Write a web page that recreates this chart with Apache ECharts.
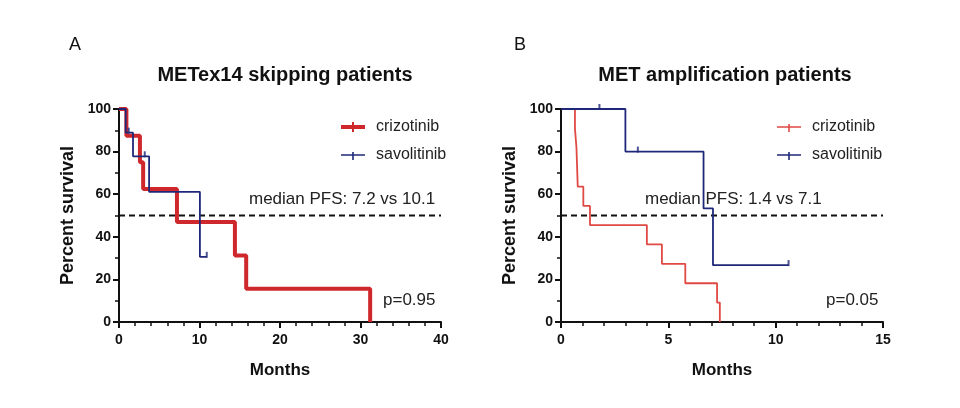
<!DOCTYPE html>
<html><head><meta charset="utf-8">
<script src="https://cdn.jsdelivr.net/npm/echarts@6/dist/echarts.min.js"></script>
<style>html,body{margin:0;padding:0;background:#fff}#c{width:960px;height:408px}</style>
</head><body><div id="c"></div>
<script>
// Panel A: METex14 skipping patients
const aCrizTimes = [0, 0.92, 2.6, 3.0, 7.2, 14.4, 15.8, 31.2];
const aCrizVals  = [100, 87.5, 75, 62.5, 46.9, 31.25, 15.6, 0];
const aSavoTimes = [0, 0.83, 1.74, 3.74, 10.05, 10.9];
const aSavoVals  = [100, 88.9, 77.8, 61.1, 30.6, 30.6];
const aSavoCensorT = [1.2, 3.2, 10.9];
const aSavoCensorV = [88.9, 77.8, 30.6];
// Panel B: MET amplification patients
const bCrizTimes = [0, 0.65, 0.72, 0.78, 1.04, 1.35, 4.0, 4.7, 5.79, 7.27, 7.4];
const bCrizVals  = [100, 90.9, 81.8, 63.6, 54.5, 45.5, 36.4, 27.3, 18.2, 9.1, 0];
const bSavoTimes = [0, 3.0, 6.64, 7.08, 10.6];
const bSavoVals  = [100, 80, 53.3, 26.7, 26.7];
const bSavoCensorT = [1.79, 3.58, 10.6];
const bSavoCensorV = [100, 80, 26.7];
const yTicks = [0, 20, 40, 60, 80, 100];

const zip = (t, v) => t.map((x, i) => [x, v[i]]);
const FONT = '"Liberation Sans", Arial, sans-serif';
const RED_A = '#cf282c', RED_B = '#e04a44', BLUE = '#1f2878';
const ICON_THICK = 'path://M0,3L24,3L24,7L0,7Z M11,0L13,0L13,10L11,10Z';
const ICON_THIN = 'path://M0,4.2L24,4.2L24,5.8L0,5.8Z M11.2,2L12.8,2L12.8,10L11.2,10Z M0,0L0.01,0L0.01,0.01Z';

function xAx(grid, max, interval, split) {
  return {
    type: 'value', gridIndex: grid, min: 0, max: max, interval: interval,
    name: 'Months', nameLocation: 'middle', nameGap: 40,
    nameTextStyle: {fontFamily: FONT, fontWeight: 'bold', fontSize: 17, color: '#111'},
    axisLine: {show: true, lineStyle: {color: '#111', width: 2}},
    axisTick: {show: true, length: 6, lineStyle: {color: '#111', width: 2}},
    minorTick: {show: true, splitNumber: split, length: 4, lineStyle: {color: '#111', width: 1.5}},
    splitLine: {show: false},
    axisLabel: {fontFamily: FONT, fontWeight: 'bold', fontSize: 14, color: '#111', margin: 11}
  };
}
function yAx(grid) {
  return {
    type: 'value', gridIndex: grid, min: 0, max: 100, interval: 20,
    name: 'Percent survival', nameLocation: 'middle', nameGap: 42,
    nameTextStyle: {fontFamily: FONT, fontWeight: 'bold', fontSize: 18, color: '#111'},
    axisLine: {show: true, lineStyle: {color: '#111', width: 2}},
    axisTick: {show: true, length: 6, lineStyle: {color: '#111', width: 2}},
    minorTick: {show: true, splitNumber: 2, length: 4, lineStyle: {color: '#111', width: 1.5}},
    splitLine: {show: false},
    axisLabel: {fontFamily: FONT, fontWeight: 'bold', fontSize: 14, color: '#111', margin: 8,
      formatter: v => yTicks.includes(v) ? String(v) : ''}
  };
}
function km(name, t, v, color, width, xi) {
  return {type: 'line', name: name, step: 'end', data: zip(t, v), xAxisIndex: xi, yAxisIndex: xi,
    symbol: 'none', lineStyle: {color: color, width: width}, itemStyle: {color: color},
    animation: false, z: width > 2 ? 3 : 4};
}
function censor(t, v, color, xi) {
  return {type: 'scatter', data: zip(t, v), xAxisIndex: xi, yAxisIndex: xi,
    symbol: 'rect', symbolSize: [2, 6], symbolOffset: [0, -2], itemStyle: {color: color},
    animation: false, z: 5};
}
function median(xi, max) {
  return {type: 'line', data: [[0, 50], [max, 50]], xAxisIndex: xi, yAxisIndex: xi, symbol: 'none',
    lineStyle: {color: '#111', width: 2, type: [6, 4]}, animation: false, z: 2};
}
const legendText = {fontFamily: FONT, fontSize: 16, color: '#222', padding: [0, 0, 0, 6]};

const chart = echarts.init(document.getElementById('c'), null, {renderer: 'canvas'});
chart.setOption({
  backgroundColor: '#fff',
  animation: false,
  title: [
    {text: 'A', left: 64, top: 31, textStyle: {fontFamily: FONT, fontWeight: 'normal', fontSize: 18, color: '#111'}},
    {text: 'B', left: 509, top: 31, textStyle: {fontFamily: FONT, fontWeight: 'normal', fontSize: 18, color: '#111'}},
    {text: 'METex14 skipping patients', left: 280, top: 60, textAlign: 'center',
      textStyle: {fontFamily: FONT, fontWeight: 'bold', fontSize: 20, color: '#111'}},
    {text: 'MET amplification patients', left: 720, top: 60, textAlign: 'center',
      textStyle: {fontFamily: FONT, fontWeight: 'bold', fontSize: 20, color: '#111'}}
  ],
  grid: [
    {left: 119, top: 109, width: 322, height: 213},
    {left: 561, top: 109, width: 322, height: 213}
  ],
  xAxis: [xAx(0, 40, 10, 5), xAx(1, 15, 5, 5)],
  yAxis: [yAx(0), yAx(1)],
  legend: [
    {orient: 'vertical', left: 336, top: 114, itemWidth: 24, itemHeight: 10, itemGap: 12,
      data: [{name: 'crizotinib', icon: ICON_THICK},
             {name: 'savolitinib', icon: ICON_THIN}],
      textStyle: legendText},
    {orient: 'vertical', left: 772, top: 114, itemWidth: 24, itemHeight: 10, itemGap: 12,
      data: [{name: 'crizotinib', icon: ICON_THIN, itemStyle: {color: RED_B}},
             {name: 'savolitinib', icon: ICON_THIN}],
      textStyle: legendText}
  ],
  series: [
    median(0, 40), median(1, 15),
    km('crizotinib', aCrizTimes, aCrizVals, RED_A, 4, 0),
    km('savolitinib', aSavoTimes, aSavoVals, BLUE, 1.8, 0),
    censor(aSavoCensorT, aSavoCensorV, BLUE, 0),
    km('crizotinib', bCrizTimes, bCrizVals, RED_B, 1.8, 1),
    km('savolitinib', bSavoTimes, bSavoVals, BLUE, 1.8, 1),
    censor(bSavoCensorT, bSavoCensorV, BLUE, 1)
  ],
  graphic: [
    {type: 'text', left: 249, top: 191, style: {text: 'median PFS: 7.2 vs 10.1', font: '17px ' + FONT, fill: '#222'}},
    {type: 'text', left: 645, top: 191, style: {text: 'median PFS: 1.4 vs 7.1', font: '17px ' + FONT, fill: '#222'}},
    {type: 'text', left: 383, top: 292, style: {text: 'p=0.95', font: '17px ' + FONT, fill: '#222'}},
    {type: 'text', left: 826, top: 292, style: {text: 'p=0.05', font: '17px ' + FONT, fill: '#222'}}
  ]
});
</script></body></html>
